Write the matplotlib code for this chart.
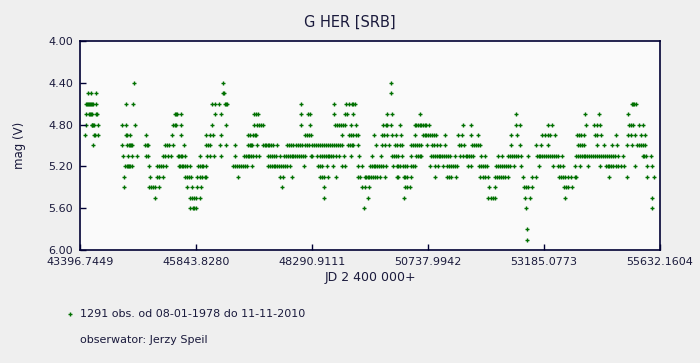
import numpy as np
import matplotlib
matplotlib.use('Agg')
from matplotlib import pyplot as plt

jd_440 = [44543, 46408, 49965]
jd_450 = [43572, 43629, 43741, 46408, 46430, 49965]
jd_460 = [43524, 43545, 43566, 43587, 43608, 43629, 43650, 43665, 43741, 44374, 44522,
          46182, 46250, 46336, 46450, 46472, 46493, 48066, 48762, 49009, 49066, 49129,
          49160, 49205, 55050, 55065, 55080, 55120]
jd_470 = [43524, 43593, 43615, 43636, 43660, 43741, 43762, 45408, 45425, 45440, 45520,
          46250, 46378, 47068, 47110, 47160, 48066, 48201, 48250, 48762, 48989, 49037,
          49151, 49881, 49973, 50571, 52597, 54053, 54355, 54967]
jd_480 = [43524, 43642, 43660, 43680, 43699, 43783, 44290, 44374, 44565, 45359, 45405,
          45430, 45528, 46175, 46477, 47068, 47124, 47180, 47220, 47265, 48066, 48250,
          48783, 48820, 48850, 48900, 48940, 48989, 49111, 49217, 49797, 49850, 49880,
          49959, 50156, 50466, 50490, 50520, 50560, 50600, 50640, 50677, 50700, 50767,
          51478, 51653, 52604, 52688, 53278, 53350, 54067, 54242, 54300, 54369, 54988,
          55030, 55072, 55198, 55270]
jd_490 = [43509, 43686, 43714, 43783, 44362, 44383, 44458, 44796, 45330, 45528, 46056,
          46146, 46197, 46378, 46948, 46990, 47040, 47079, 47110, 48152, 48175, 48230,
          48271, 48932, 49066, 49115, 49165, 49215, 49263, 49600, 49763, 49800, 49869,
          49987, 50058, 50170, 50466, 50634, 50670, 50700, 50740, 50780, 50820, 50865,
          50900, 51103, 51373, 51463, 51637, 51797, 52494, 52621, 53139, 53200, 53260,
          53320, 53420, 53877, 53930, 53960, 54037, 54264, 54300, 54384, 54700, 54967,
          55030, 55108, 55228, 55319]
jd_500 = [43678, 44290, 44395, 44420, 44445, 44470, 44494, 44762, 44800, 44838, 45197,
          45240, 45281, 45366, 45598, 46056, 46100, 46140, 46357, 46477, 46668, 46948,
          46980, 47000, 47020, 47125, 47265, 47300, 47330, 47360, 47390, 47420, 47460,
          47545, 47765, 47807, 47849, 47891, 47955, 47997, 48039, 48081, 48145, 48187,
          48229, 48292, 48334, 48377, 48419, 48461, 48503, 48545, 48588, 48630, 48672,
          48714, 48756, 48799, 48841, 48883, 48925, 49052, 49094, 49136, 49158, 49263,
          49632, 49769, 49833, 49917, 50044, 50086, 50149, 50191, 50387, 50420, 50470,
          50500, 50550, 50598, 50719, 50824, 50866, 50930, 50987, 51105, 51394, 51437,
          51500, 51668, 51710, 51750, 51790, 51836, 52497, 52687, 53019, 53117, 53278,
          53905, 53950, 53990, 54037, 54299, 54460, 54615, 54720, 54946, 55045, 55143,
          55190, 55230, 55270, 55319]
jd_510 = [44311, 44404, 44501, 44600, 44790, 44838, 45142, 45200, 45260, 45317, 45459,
          45490, 45520, 45550, 45606, 45935, 46070, 46140, 46224, 46372, 46668, 46864,
          46900, 46935, 46970, 47005, 47040, 47110, 47163, 47357, 47400, 47440, 47480,
          47530, 47617, 47701, 47740, 47780, 47820, 47860, 47900, 47940, 47980, 48020,
          48060, 48100, 48145, 48271, 48300, 48391, 48461, 48500, 48540, 48580, 48620,
          48660, 48700, 48740, 48800, 48850, 48973, 49108, 49290, 49552, 49742, 49987,
          50020, 50060, 50100, 50185, 50387, 50492, 50530, 50560, 50600, 50797, 50840,
          50880, 50920, 50960, 51000, 51040, 51080, 51120, 51160, 51200, 51301, 51421,
          51485, 51530, 51570, 51610, 51650, 51697, 51865, 51950, 52210, 52307, 52428,
          52470, 52510, 52550, 52590, 52630, 52702, 52850, 53033, 53070, 53110, 53150,
          53190, 53230, 53270, 53310, 53350, 53390, 53430, 53470, 53560, 53856, 53900,
          53940, 53980, 54020, 54060, 54100, 54140, 54180, 54220, 54260, 54300, 54340,
          54380, 54420, 54470, 54520, 54560, 54600, 54640, 54680, 54740, 54860, 55267,
          55300, 55330, 55435]
jd_520 = [44353, 44380, 44410, 44440, 44460, 44501, 44859, 45022, 45070, 45110, 45150,
          45212, 45480, 45510, 45540, 45580, 45620, 45660, 45724, 45887, 45930, 45970,
          46000, 46062, 46632, 46670, 46710, 46750, 46790, 46830, 46870, 46920, 47020,
          47357, 47400, 47440, 47480, 47520, 47560, 47600, 47640, 47680, 47720, 47760,
          47831, 48123, 48426, 48470, 48510, 48602, 48729, 48919, 48989, 49256, 49340,
          49509, 49550, 49590, 49630, 49660, 49700, 49740, 49790, 49850, 50007, 50092,
          50107, 50155, 50206, 50261, 50303, 50387, 50420, 50459, 50788, 50894, 50950,
          51056, 51147, 51190, 51230, 51270, 51316, 51357, 51577, 51653, 51810, 51850,
          51890, 51930, 51991, 52181, 52220, 52260, 52300, 52340, 52380, 52420, 52460,
          52548, 52708, 53088, 53370, 53490, 53525, 53595, 53842, 53947, 54109, 54369,
          54495, 54530, 54560, 54600, 54640, 54700, 54740, 54800, 54880, 55108, 55354,
          55460]
jd_530 = [44332, 44880, 45015, 45060, 45142, 45606, 45650, 45690, 45739, 45866, 45920,
          45980, 46041, 46056, 46731, 47617, 47687, 47864, 48461, 48500, 48540, 48623,
          48799, 49256, 49305, 49411, 49440, 49470, 49500, 49530, 49570, 49610, 49660,
          49730, 49833, 50092, 50107, 50233, 50260, 50300, 50374, 50894, 51147, 51190,
          51230, 51337, 51844, 51890, 51930, 51996, 52147, 52190, 52230, 52270, 52310,
          52370, 52421, 52738, 52940, 53012, 53512, 53550, 53590, 53630, 53700, 53760,
          53830, 53862, 54565, 54932, 55367, 55508]
jd_540 = [44332, 44859, 44900, 44940, 44980, 45058, 45655, 45760, 45866, 45956, 47666,
          48545, 49354, 49400, 49495, 50255, 50300, 50360, 52033, 52147, 52765, 52800,
          52840, 52927, 53610, 53650, 53700, 53772]
jd_550 = [44986, 45712, 45760, 45800, 45850, 45929, 48545, 49480, 50240, 52012, 52060,
          52100, 52160, 52793, 52892, 53637, 55460]
jd_560 = [45725, 45770, 45800, 45845, 49380, 52815, 55460]
jd_580 = [52833]
jd_590 = [52822]

rows = [(4.4, jd_440), (4.5, jd_450), (4.6, jd_460), (4.7, jd_470), (4.8, jd_480),
        (4.9, jd_490), (5.0, jd_500), (5.1, jd_510), (5.2, jd_520), (5.3, jd_530),
        (5.4, jd_540), (5.5, jd_550), (5.6, jd_560), (5.8, jd_580), (5.9, jd_590)]

jd = []
mag = []
for m, days in rows:
    jd += days
    mag += [m] * len(days)
jd = np.array(jd)
mag = np.array(mag)

x_start = 43396.7449
x_step = 2447.0831
x_ticks = [x_start + i * x_step for i in range(6)]
y_ticks = [4.0, 4.4, 4.8, 5.2, 5.6, 6.0]

txt = '#1a1a3c'
green = '#007000'

fig = plt.figure(figsize=(7, 3.63), dpi=100, facecolor='#efefef')
ax = fig.add_axes([80 / 700, 1 - 250 / 363, 580 / 700, 209 / 363])
ax.set_facecolor('#fafafa')

ax.scatter(jd, mag, marker='+', s=9, linewidths=1.0, color=green)

ax.set_xlim(x_ticks[0], x_ticks[-1])
ax.set_ylim(6.0, 4.0)
ax.set_xticks(x_ticks)
ax.set_xticklabels(['%.4f' % t for t in x_ticks])
ax.set_yticks(y_ticks)
ax.set_yticklabels(['%.2f' % t for t in y_ticks])
ax.tick_params(direction='in', length=4, width=1, colors='#000033', labelcolor=txt,
               labelsize=8, pad=5)
for s in ax.spines.values():
    s.set_color('#000033')
    s.set_linewidth(1.2)

ax.set_xlabel('JD 2 400 000+', fontsize=9, color=txt, labelpad=3)
ax.set_ylabel('mag (V)', fontsize=8.5, color=txt, labelpad=16)
fig.text(0.5, 1 - 22 / 363, 'G HER [SRB]', ha='center', va='center', fontsize=10.5, color=txt)

fig.lines.append(matplotlib.lines.Line2D([70 / 700], [1 - 314 / 363], marker='+', markersize=3.5,
                                         markeredgewidth=1.0, color=green,
                                         transform=fig.transFigure))
fig.text(80 / 700, 1 - 314 / 363, '1291 obs. od 08-01-1978 do 11-11-2010', ha='left',
         va='center', fontsize=8, color=txt)
fig.text(80 / 700, 1 - 340 / 363, 'obserwator: Jerzy Speil', ha='left', va='center',
         fontsize=8, color=txt)

plt.savefig('out.png', dpi=100, facecolor=fig.get_facecolor())
plt.close()
